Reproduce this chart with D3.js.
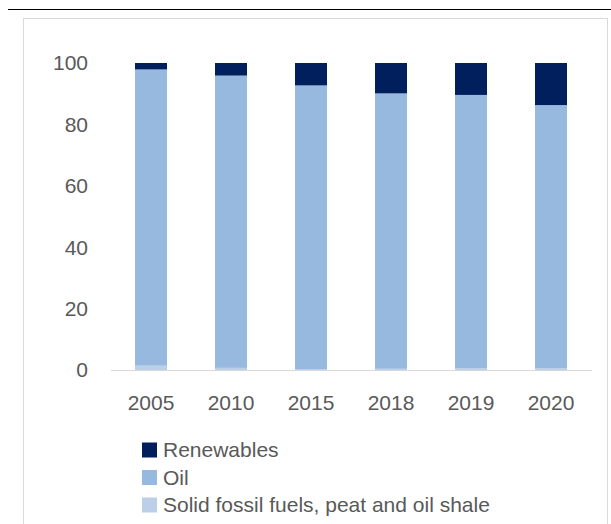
<!DOCTYPE html>
<html><head><meta charset="utf-8">
<script src="https://cdn.jsdelivr.net/npm/d3@7"></script>
<style>html,body{margin:0;padding:0;background:#fff;}</style>
</head><body>
<svg id="c" width="611" height="524"></svg>
<script>
const categories = ["2005","2010","2015","2018","2019","2020"];
const solidFossil = [1.4, 0.7, 0.3, 0.4, 0.6, 0.6];
const oil = [96.5, 95.2, 92.4, 89.7, 89.0, 85.7];
const renewables = [2.1, 4.1, 7.3, 9.9, 10.4, 13.7];
const yTicks = [0, 20, 40, 60, 80, 100];
const seriesNames = ["Solid fossil fuels, peat and oil shale", "Oil", "Renewables"];
const colors = ["#BBCFE9", "#98B9DF", "#001F5C"];
const legendOrder = ["Renewables", "Oil", "Solid fossil fuels, peat and oil shale"];

const svg = d3.select("#c");
const font = "'Liberation Sans', Arial, sans-serif";
const textColor = "#595959";

// top rule and chart border
svg.append("line").attr("x1",8).attr("x2",611).attr("y1",9.5).attr("y2",9.5).attr("stroke","#000").attr("stroke-width",1);
svg.append("rect").attr("x",23.5).attr("y",18.5).attr("width",584).attr("height",520).attr("fill","none").attr("stroke","#D9D9D9");

const x = d3.scaleBand().domain(categories).range([111, 591]).paddingInner(0.6).paddingOuter(0.3);
const y = d3.scaleLinear().domain([0, 100]).range([370, 63]);

const rows = categories.map((c,i)=>({cat:c, s0:solidFossil[i], s1:oil[i], s2:renewables[i]}));
const stack = d3.stack().keys(["s0","s1","s2"]);
const stacked = stack(rows);

// y tick labels
svg.append("g").selectAll("text").data(yTicks).join("text")
  .attr("x", 88).attr("y", d=>y(d)).attr("dy","0.35em")
  .attr("text-anchor","end").attr("font-family",font).attr("font-size",21).attr("fill",textColor)
  .text(d=>d);

svg.append("g").selectAll("g").data(stacked).join("g")
  .attr("fill",(d,i)=>colors[i])
  .selectAll("rect").data(d=>d).join("rect")
  .attr("x", d=>x(d.data.cat)).attr("width", x.bandwidth())
  .attr("y", d=>y(d[1])).attr("height", d=>y(d[0])-y(d[1]));

// x axis line
svg.append("line").attr("x1",111).attr("x2",592).attr("y1",370.5).attr("y2",370.5).attr("stroke","#D9D9D9").attr("stroke-width",1);

// x labels
svg.append("g").selectAll("text").data(categories).join("text")
  .attr("x", d=>x(d)+x.bandwidth()/2).attr("y", 403).attr("dy","0.35em")
  .attr("text-anchor","middle").attr("font-family",font).attr("font-size",21).attr("fill",textColor)
  .text(d=>d);

// legend
const lg = svg.append("g").selectAll("g").data(legendOrder).join("g")
  .attr("transform",(d,i)=>`translate(142,${450 + i*27.5})`);
lg.append("rect").attr("x",0).attr("y",-7.5).attr("width",15).attr("height",15)
  .attr("fill", d=>colors[seriesNames.indexOf(d)]);
lg.append("text").attr("x",21).attr("y",0).attr("dy","0.35em")
  .attr("font-family",font).attr("font-size",21).attr("fill",textColor).text(d=>d);
</script>
</body></html>
